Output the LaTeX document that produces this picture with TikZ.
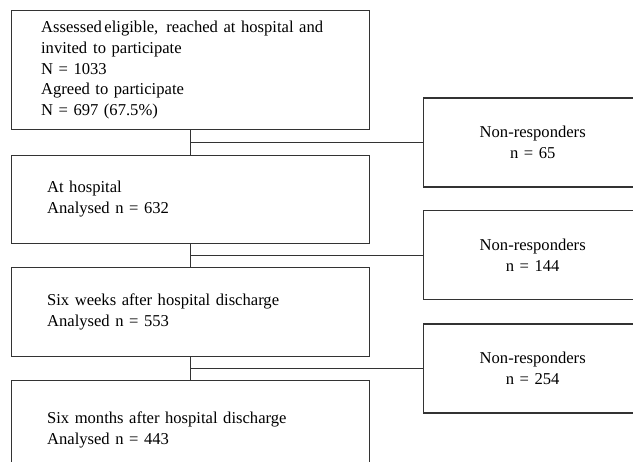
\documentclass[tikz,border=0pt]{standalone}
\usepackage{fontspec}
\setmainfont{Liberation Serif}
\usetikzlibrary{positioning}

\begin{document}
\begin{tikzpicture}[x=1pt, y=-1pt, node distance=23pt,
    font=\fontsize{16.6}{20.6}\selectfont]
  \tikzstyle{stage} = [rectangle, draw=black!80, line width=1.2pt,
  text width=286pt, inner xsep=36pt, inner ysep=0pt, align=left]
  \tikzstyle{dropout} = [rectangle, draw=black!80, line width=1.2pt,
  text width=190pt, align=center, minimum width=218pt, minimum height=89pt]
  \tikzstyle{link} = [draw=black!80, line width=1.2pt]

  \useasboundingbox (0,0) rectangle (633,462);
  \clip (0,0) rectangle (633,462);

  % left column
  \node [stage, anchor=north west, text width=298pt, inner xsep=30pt,
    minimum height=119pt] (invited) at (10.5,10)
    {Assessed\hspace{2.5pt}eligible,\hspace{8pt}reached at hospital and\\
      invited\hspace{6pt}to participate\\
      N = 1033\\
      Agreed to participate\\
      N = 697 (67.5\%)};
  \node [stage, below=24.5pt of invited, minimum height=88pt] (hospital)
    {At hospital\\Analysed n = 632};
  \node [stage, below=of hospital, minimum height=89pt] (weeks)
    {Six weeks after hospital discharge\\Analysed n = 553};
  \node [stage, below=of weeks, minimum height=98pt] (months)
    {Six months after hospital discharge\\Analysed n = 443};

  % branch points
  \coordinate [below=12.25pt of invited] (split1);
  \coordinate [below=11.5pt of hospital] (split2);
  \coordinate [below=11.5pt of weeks] (split3);

  % right column
  \node [dropout, right=233pt of split1] (lost1) {Non-responders\\n = 65};
  \node [dropout, right=233pt of split2] (lost2) {Non-responders\\n = 144};
  \node [dropout, right=233pt of split3] (lost3) {Non-responders\\n = 254};

  \draw [link] (invited) -- (hospital);
  \draw [link] (hospital) -- (weeks);
  \draw [link] (weeks) -- (months);
  \draw [link] (split1) -- (lost1);
  \draw [link] (split2) -- (lost2);
  \draw [link] (split3) -- (lost3);
\end{tikzpicture}
\end{document}
